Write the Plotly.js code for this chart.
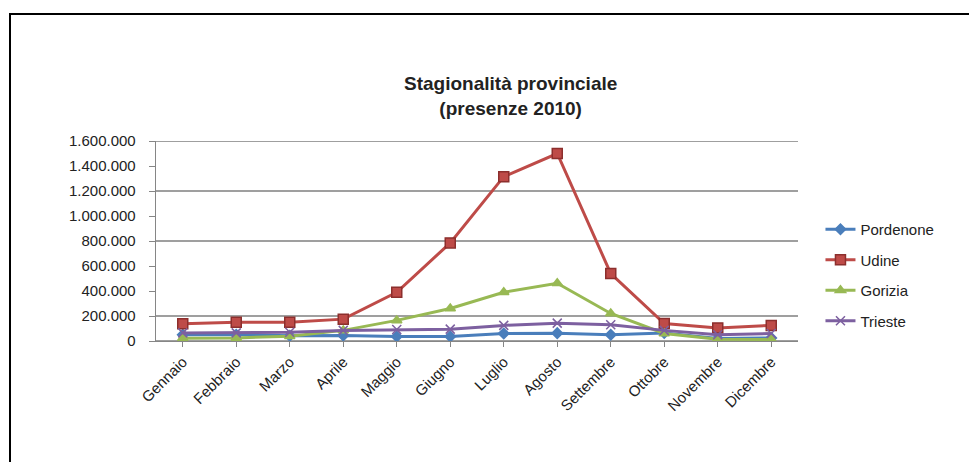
<!DOCTYPE html>
<html>
<head>
<meta charset="utf-8">
<script src="https://cdn.plot.ly/plotly-3.0.1.min.js"></script>
<style>
  html, body { margin: 0; padding: 0; background: #fff; }
  #wrap { position: relative; width: 969px; height: 462px; overflow: hidden; }
  #chart { width: 969px; height: 462px; }
  #frame { position: absolute; left: 9px; top: 13px; width: 980px; height: 470px;
           border-left: 2px solid #000; border-top: 2px solid #000; pointer-events: none; }
</style>
</head>
<body>
<div id="wrap">
  <div id="chart"></div>
  <div id="frame"></div>
</div>
<script>
const months = ["Gennaio","Febbraio","Marzo","Aprile","Maggio","Giugno","Luglio","Agosto","Settembre","Ottobre","Novembre","Dicembre"];
const pordenone = [50000,50000,42000,44000,36000,36000,60000,63000,50000,65000,20000,25000];
const udine     = [138000,150000,150000,175000,390000,785000,1315000,1500000,540000,140000,105000,125000];
const gorizia   = [22000,25000,38000,85000,165000,260000,390000,462000,220000,60000,15000,12000];
const trieste   = [65000,65000,70000,85000,92000,95000,125000,143000,130000,85000,50000,60000];
const yTicks = [0,200000,400000,600000,800000,1000000,1200000,1400000,1600000];
const gridVals = [0,200000,800000,1200000,1600000];

const traces = [
  {name:"Pordenone", y:pordenone, color:"#4A7EBB", symbol:"diamond", size:8, lc:"#4A7EBB"},
  {name:"Udine", y:udine, color:"#BE4B48", symbol:"square", size:10, lc:"#8C2F2D"},
  {name:"Gorizia", y:gorizia, color:"#98B954", symbol:"triangle-up", size:9, lc:"#98B954"},
  {name:"Trieste", y:trieste, color:"#7D60A0", symbol:"x-thin-open", size:9, lc:"#7D60A0"}
].map((t,i) => ({
  type:"scatter", mode:"lines+markers", x:months, y:t.y, name:t.name,
  legendgroup:"g"+i,
  line:{color:t.color, width:3},
  marker:{symbol:t.symbol, size:t.size, color:t.color, line:{color:t.lc, width:1.5}}
}));

const shapes = gridVals.map(v => ({
  type:"line", xref:"paper", yref:"y", x0:0, x1:1, y0:v, y1:v,
  line:{color:"#7f7f7f", width:1.3}, layer:"below"
}));

const layout = {
  width:969, height:462,
  margin:{l:156, r:171, t:141, b:121},
  paper_bgcolor:"#fff", plot_bgcolor:"#fff",
  separators:",.",
  font:{family:"Arial, 'Liberation Sans', sans-serif", color:"#222"},
  title:{text:"<b>Stagionalità provinciale<br>(presenze 2010)</b>",
         font:{size:19, color:"#222"},
         x:0.527, xref:"container", xanchor:"center",
         y:0.805, yref:"container", yanchor:"middle"},
  xaxis:{type:"category", range:[-0.5,11.5], showgrid:false,
         showline:true, linecolor:"#868686", linewidth:1.3,
         ticks:"outside", ticklen:5, tickcolor:"#868686",
         tickangle:-45, tickfont:{size:15, color:"#222"}, fixedrange:true},
  yaxis:{range:[0,1600000], tickvals:yTicks, tickformat:",d", showgrid:false,
         zeroline:false, showline:true, linecolor:"#868686", linewidth:1.3,
         ticks:"outside", ticklen:6, tickcolor:"#868686",
         ticklabelstandoff:10, tickfont:{size:15, color:"#222"}, fixedrange:true},
  shapes:shapes,
  showlegend:true,
  legend:{x:1.035, xanchor:"left", y:0.33, yanchor:"middle",
          font:{size:15, color:"#222"}, tracegroupgap:8, bgcolor:"rgba(0,0,0,0)"}
};

Plotly.newPlot("chart", traces, layout, {displayModeBar:false, staticPlot:true});
</script>
</body>
</html>
